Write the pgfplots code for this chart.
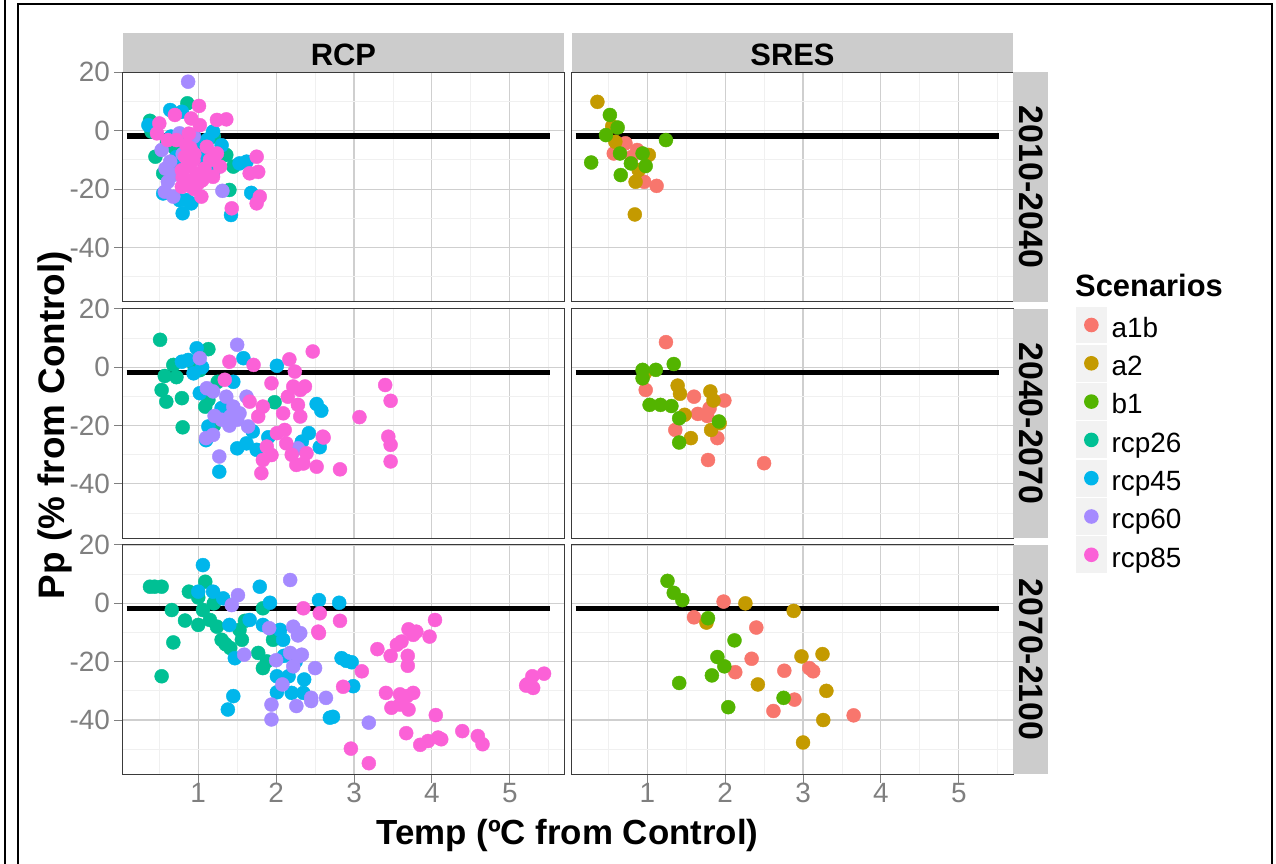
\documentclass[border=0pt]{standalone}
\usepackage{fontspec}
\setmainfont{Liberation Sans}
\usepackage{pgfplots}
\pgfplotsset{compat=1.18}

\definecolor{ca1b}{HTML}{F8766D}
\definecolor{ca2}{HTML}{C49A00}
\definecolor{cb1}{HTML}{53B400}
\definecolor{crcp26}{HTML}{00C094}
\definecolor{crcp45}{HTML}{00B6EB}
\definecolor{crcp60}{HTML}{A58AFF}
\definecolor{crcp85}{HTML}{FB61D7}
\definecolor{gridmaj}{HTML}{CFCFCF}
\definecolor{gridmin}{HTML}{F0F0F0}
\definecolor{border}{HTML}{3A3A3A}
\definecolor{tickgray}{HTML}{7F7F7F}
\definecolor{stripgray}{HTML}{CCCCCC}
\definecolor{keybg}{HTML}{F2F2F2}

\pgfplotsset{
  panel/.style={
    scale only axis, width=441.6bp, height=229.6bp, anchor=south west,
    xmin=0.03, xmax=5.70, ymin=-58.6, ymax=20.1,
    xtick={1,2,3,4,5}, ytick={-40,-20,0,20},
    minor xtick={0.5,1.5,2.5,3.5,4.5,5.5}, minor ytick={-50,-30,-10,10},
    xmajorgrids, ymajorgrids, xminorgrids, yminorgrids,
    major grid style={line width=1.1bp, draw=gridmaj},
    minor grid style={line width=0.8bp, draw=gridmin},
    axis line style={line width=1bp, draw=border},
    tick align=outside, tick pos=left,
    major tick length=8.5bp, minor tick length=0bp,
    every tick/.style={draw=tickgray, line width=1bp},
    xticklabel=\empty, yticklabel=\empty,
    ticklabel style={font=\fontsize{28}{28}\selectfont, text=tickgray},
    yticklabel style={anchor=east, inner sep=0pt, xshift=-4bp},
    xticklabel style={anchor=north, inner sep=0pt},
  },
  nox/.style={xtick style={draw=none}},
  noy/.style={ytick style={draw=none}},
  labx/.style={xticklabels={1,2,3,4,5}},
  laby/.style={yticklabels={-40,-20,0,20}},
  pt/.style={only marks, mark=*, mark size=7bp, color=#1},
  hl/.style={black, line width=5.3bp, no marks},
}

\begin{document}
\begin{tikzpicture}[x=1bp, y=1bp]
\path[use as bounding box] (0,0) rectangle (1276,864);

% ---- row 1 : 2010-2040 ----
\begin{axis}[panel, nox, laby, at={(122.7bp,562.3bp)}]
\addplot[pt=crcp26] coordinates {(0.86,9.4) (0.38,3.4) (0.42,1.4) (0.45,-8.9) (0.55,-14.6) (1.36,-8.3) (1.45,-12.3) (1.40,-20.3) (0.40,-0.3) (0.70,-6.0) (1.10,-10.0) (0.60,-4.0) (1.20,-2.0)};
\addplot[pt=crcp45] coordinates {(0.64,7.1) (0.79,6.5) (0.36,1.9) (1.19,-0.3) (0.55,-21.5) (0.80,-28.3) (0.85,-23.8) (1.53,-11.2) (1.62,-10.6) (1.68,-21.3) (1.42,-28.9) (1.02,-4.3) (0.91,-24.9) (0.76,-23.8) (1.06,-10.1) (1.19,-14.6) (0.95,-2.0) (1.30,-5.0) (0.70,-12.0) (0.72,-9.0) (1.00,-7.0) (1.12,-3.0) (0.65,-2.0)};
\addplot[pt=crcp60] coordinates {(0.87,16.8) (0.53,-6.6) (0.64,-10.6) (0.61,-17.5) (0.57,-20.9) (0.68,-22.6) (1.31,-20.6) (0.76,-0.9) (0.94,-2.1) (0.80,-8.0) (0.70,-15.0) (0.58,-13.0)};
\addplot[pt=crcp85] coordinates {(1.01,8.5) (0.70,5.4) (1.24,3.7) (1.36,3.9) (0.50,2.5) (0.91,4.2) (1.02,1.9) (0.79,-19.2) (1.04,-22.6) (0.87,-12.3) (0.98,-14.6) (1.11,-5.5) (1.24,-7.8) (1.28,-12.3) (1.19,-15.8) (1.75,-8.9) (1.77,-14.1) (1.66,-14.6) (1.79,-22.6) (1.75,-24.9) (1.43,-26.6) (0.72,-3.2) (0.61,-3.2) (0.83,-8.9) (0.94,-10.1) (0.79,-13.5) (0.85,-16.9) (0.47,-0.9) (0.90,-6.0) (1.00,-18.0) (0.95,-20.0) (1.15,-10.0) (0.88,-1.0) (0.80,-16.0) (0.90,-19.0) (1.05,-17.0) (0.95,-8.0) (1.08,-13.0) (0.85,-5.0)};
\addplot[hl] coordinates {(0.08,-1.8) (5.52,-1.8)};
\end{axis}

\begin{axis}[panel, nox, noy, at={(571.7bp,562.3bp)}]
\addplot[pt=ca1b] coordinates {(0.57,-7.8) (0.72,-4.3) (0.87,-6.6) (0.96,-17.5) (1.12,-18.9) (0.62,-5.0) (0.80,-9.0)};
\addplot[pt=ca2] coordinates {(0.36,9.9) (0.59,-3.8) (1.02,-8.3) (0.85,-17.5) (0.84,-28.7) (0.89,-13.5) (0.55,1.5)};
\addplot[pt=cb1] coordinates {(0.52,5.4) (0.62,1.1) (0.47,-1.5) (0.65,-7.8) (0.94,-7.8) (0.79,-11.2) (0.98,-12.1) (0.28,-10.9) (0.66,-15.2) (1.24,-3.2)};
\addplot[hl] coordinates {(0.08,-1.8) (5.52,-1.8)};
\end{axis}

% ---- row 2 : 2040-2070 ----
\begin{axis}[panel, nox, laby, at={(122.7bp,325.8bp)}]
\addplot[pt=crcp26] coordinates {(0.51,9.4) (1.13,6.2) (0.57,-3.0) (0.72,-3.4) (0.68,0.8) (0.53,-7.8) (0.59,-11.8) (0.79,-10.6) (0.80,-20.6) (1.09,-13.5) (1.13,-11.2) (1.02,-1.0) (1.20,-20.0) (1.25,-5.0) (0.95,0.5) (1.98,-12.0)};
\addplot[pt=crcp45] coordinates {(0.98,6.5) (0.87,2.5) (0.79,1.9) (1.58,3.1) (2.01,0.5) (1.02,-8.9) (0.94,-2.1) (1.13,-20.3) (1.27,-35.8) (1.50,-27.8) (1.62,-26.1) (1.75,-28.3) (2.42,-22.6) (2.33,-25.5) (2.52,-12.6) (2.58,-14.9) (2.56,-27.4) (1.05,0.0) (1.30,-14.0) (1.45,-5.0) (1.70,-22.0) (1.90,-24.0) (1.10,-25.0)};
\addplot[pt=crcp60] coordinates {(1.50,7.7) (1.02,3.1) (1.11,-7.2) (1.21,-16.7) (1.10,-24.3) (1.19,-23.2) (1.27,-30.6) (1.36,-10.1) (1.45,-13.5) (1.41,-16.9) (1.53,-15.8) (1.64,-20.3) (1.62,-10.1) (2.28,-27.8) (1.19,-8.3) (1.40,-20.0) (1.30,-18.0) (1.50,-18.0)};
\addplot[pt=crcp85] coordinates {(1.40,1.9) (1.71,0.8) (2.17,2.7) (2.47,5.4) (2.24,-1.5) (1.34,-4.3) (1.66,-11.8) (1.77,-16.9) (1.83,-13.5) (1.94,-5.5) (1.88,-27.2) (1.83,-31.8) (1.81,-36.3) (1.94,-30.1) (2.01,-22.6) (2.11,-21.5) (2.13,-26.1) (2.09,-15.8) (2.15,-10.1) (2.22,-6.6) (2.31,-7.8) (2.37,-6.6) (2.28,-12.9) (2.31,-16.9) (2.26,-33.5) (2.39,-29.5) (2.52,-34.1) (2.60,-23.8) (3.40,-6.1) (3.47,-11.5) (3.07,-17.1) (3.44,-23.8) (3.47,-26.6) (3.47,-32.3) (2.61,-24.1) (2.82,-35.0) (2.20,-30.0) (2.35,-33.0)};
\addplot[hl] coordinates {(0.08,-1.8) (5.52,-1.8)};
\end{axis}

\begin{axis}[panel, nox, noy, at={(571.7bp,325.8bp)},
  legend cell align=left,
  legend image code/.code={
    \path[draw=none, fill=none] (-16.35bp,-19.15bp) rectangle (16.35bp,19.15bp);
    \fill[keybg, draw=none] (-15.6bp,-18.4bp) rectangle (15.6bp,18.4bp);
    \fill[draw=none] (0bp,0bp) circle[radius=7.3bp];},
  legend style={at={(1.1397,1.012)}, anchor=north west, draw=none, fill=none,
    inner sep=0pt, outer sep=0pt, row sep=0pt, column sep=4bp,
    font=\fontsize{28}{28}\selectfont,
    nodes={inner sep=0pt, outer sep=0pt, text height=24.6bp, text depth=0pt}}]
\addlegendimage{ca1b}\addlegendentry{a1b}
\addlegendimage{ca2}\addlegendentry{a2}
\addlegendimage{cb1}\addlegendentry{b1}
\addlegendimage{crcp26}\addlegendentry{rcp26}
\addlegendimage{crcp45}\addlegendentry{rcp45}
\addlegendimage{crcp60}\addlegendentry{rcp60}
\addlegendimage{crcp85}\addlegendentry{rcp85}
\addplot[pt=ca1b, forget plot] coordinates {(1.24,8.6) (0.98,-7.8) (1.60,-10.1) (1.99,-11.4) (1.65,-16.0) (1.77,-16.7) (1.80,-14.1) (1.36,-21.5) (1.90,-24.3) (1.78,-31.8) (2.50,-32.9)};
\addplot[pt=ca2, forget plot] coordinates {(1.39,-6.3) (1.42,-9.1) (1.81,-8.3) (1.85,-11.4) (1.48,-16.3) (1.93,-19.2) (1.82,-21.5) (1.56,-24.3) (0.97,-2.0)};
\addplot[pt=cb1, forget plot] coordinates {(0.94,-0.9) (1.11,-0.9) (1.34,1.1) (0.94,-3.8) (1.03,-12.9) (1.17,-12.9) (1.31,-13.3) (1.41,-17.5) (1.92,-18.6) (1.41,-25.8)};
\addplot[hl, forget plot] coordinates {(0.08,-1.8) (5.52,-1.8)};
\end{axis}

% ---- row 3 : 2070-2100 ----
\begin{axis}[panel, labx, laby, at={(122.7bp,89.7bp)}]
\addplot[pt=crcp26] coordinates {(0.44,5.7) (0.53,5.7) (0.38,5.7) (1.09,7.4) (0.88,4.0) (0.66,-2.3) (0.83,-5.9) (1.00,-7.4) (1.15,-5.7) (1.24,-8.0) (0.68,-13.4) (0.53,-25.0) (1.06,-2.3) (1.30,-12.5) (1.41,-15.3) (1.56,-12.5) (1.53,-9.1) (1.77,-17.0) (1.83,-22.2) (1.88,-19.9) (1.83,-1.7) (1.96,-12.5) (1.00,2.0) (1.20,0.0) (1.35,-14.0) (1.60,-6.0)};
\addplot[pt=crcp45] coordinates {(1.06,13.1) (1.00,4.0) (1.19,4.0) (1.32,1.7) (1.79,5.7) (1.40,-7.4) (1.47,-18.8) (1.66,-5.7) (1.92,0.2) (1.83,-7.4) (2.05,-9.1) (2.09,-12.5) (2.01,-25.0) (2.16,-25.0) (2.01,-30.5) (2.20,-30.7) (2.35,-30.7) (2.36,-26.1) (1.45,-31.8) (1.38,-36.4) (2.55,1.1) (2.69,-39.2) (2.81,0.2) (2.84,-18.8) (2.90,-19.7) (2.97,-20.2) (2.99,-28.4) (2.73,-38.9) (2.10,-18.0) (2.25,-20.0)};
\addplot[pt=crcp60] coordinates {(1.51,2.8) (1.43,-0.6) (2.18,8.0) (1.59,-17.6) (1.91,-8.5) (2.22,-8.0) (2.31,-10.2) (2.18,-17.0) (2.29,-18.2) (2.33,-17.6) (2.22,-21.6) (2.00,-19.5) (2.08,-27.8) (2.50,-22.2) (2.45,-32.4) (2.45,-33.5) (2.64,-32.4) (2.26,-35.2) (1.94,-34.7) (1.94,-39.8) (3.19,-40.9) (2.28,-11.0)};
\addplot[pt=crcp85] coordinates {(2.35,-1.7) (2.56,-3.4) (2.54,-9.7) (2.82,-6.0) (2.55,-10.2) (3.10,-23.3) (2.86,-28.6) (2.96,-49.8) (3.19,-54.8) (3.30,-15.7) (3.47,-18.0) (3.55,-14.2) (3.61,-13.1) (3.70,-8.9) (3.80,-9.7) (3.97,-11.4) (4.04,-5.7) (3.76,-10.8) (3.69,-18.0) (3.69,-21.4) (3.41,-30.7) (3.48,-35.8) (3.59,-34.7) (3.68,-31.8) (3.76,-30.7) (3.70,-36.4) (3.59,-31.2) (4.05,-38.3) (3.67,-44.5) (3.85,-48.5) (3.95,-47.2) (4.08,-46.0) (4.12,-46.6) (4.39,-43.8) (4.59,-45.5) (4.65,-48.3) (5.22,-27.8) (5.30,-29.0) (5.29,-25.0) (5.44,-24.1) (5.21,-28.2)};
\addplot[hl] coordinates {(0.08,-1.8) (5.52,-1.8)};
\end{axis}

\begin{axis}[panel, labx, noy, at={(571.7bp,89.7bp)}]
\addplot[pt=ca1b] coordinates {(1.98,0.6) (1.60,-4.8) (2.40,-8.3) (2.34,-19.0) (2.13,-23.6) (2.76,-23.1) (3.08,-22.2) (3.13,-23.3) (2.89,-33.0) (2.62,-36.9) (3.65,-38.4)};
\addplot[pt=ca2] coordinates {(2.26,0.0) (2.88,-2.6) (1.76,-6.6) (2.98,-18.2) (3.25,-17.4) (2.42,-27.8) (3.30,-30.0) (3.26,-40.0) (3.00,-47.7)};
\addplot[pt=cb1] coordinates {(1.26,7.7) (1.34,3.6) (1.45,1.1) (1.78,-5.1) (2.12,-12.7) (1.90,-18.4) (1.99,-21.6) (1.83,-24.7) (1.41,-27.3) (2.75,-32.4) (2.04,-35.6)};
\addplot[hl] coordinates {(0.08,-1.8) (5.52,-1.8)};
\end{axis}

% strips
\fill[stripgray] (122.7,791.9) rectangle (564.3,831.3);
\fill[stripgray] (571.7,791.9) rectangle (1013.3,831.3);
\fill[stripgray] (1013.3,562.3) rectangle (1048.3,791.9);
\fill[stripgray] (1013.3,325.8) rectangle (1048.3,555.4);
\fill[stripgray] (1013.3,89.7) rectangle (1048.3,319.3);
\node[anchor=base, inner sep=0pt] at (343.5,798.3) {\fontsize{31}{31}\selectfont\bfseries RCP};
\node[anchor=base, inner sep=0pt] at (792.5,798.3) {\fontsize{31}{31}\selectfont\bfseries SRES};
\node[rotate=-90, inner sep=0pt] at (1030.8,677.1) {\fontsize{34}{34}\selectfont\bfseries 2010-2040};
\node[rotate=-90, inner sep=0pt] at (1030.8,440.6) {\fontsize{34}{34}\selectfont\bfseries 2040-2070};
\node[rotate=-90, inner sep=0pt] at (1030.8,204.5) {\fontsize{34}{34}\selectfont\bfseries 2070-2100};

% axis titles and legend title
\node[rotate=90, anchor=base, inner sep=0pt] at (64,439) {\fontsize{37}{37}\selectfont\bfseries Pp (\% from Control)};
\node[anchor=base, inner sep=0pt] at (567.5,19) {\fontsize{35}{35}\selectfont\bfseries Temp (ºC from Control)};
\node[anchor=base west, inner sep=0pt] at (1075,567.3) {\fontsize{31}{31}\selectfont\bfseries Scenarios};

% frame
\draw[line width=2bp] (18.3,-5) -- (18.3,860) -- (1272.3,860) -- (1272.3,-5);
\draw[line width=2bp] (5,-5) -- (5,869);
\end{tikzpicture}
\end{document}
